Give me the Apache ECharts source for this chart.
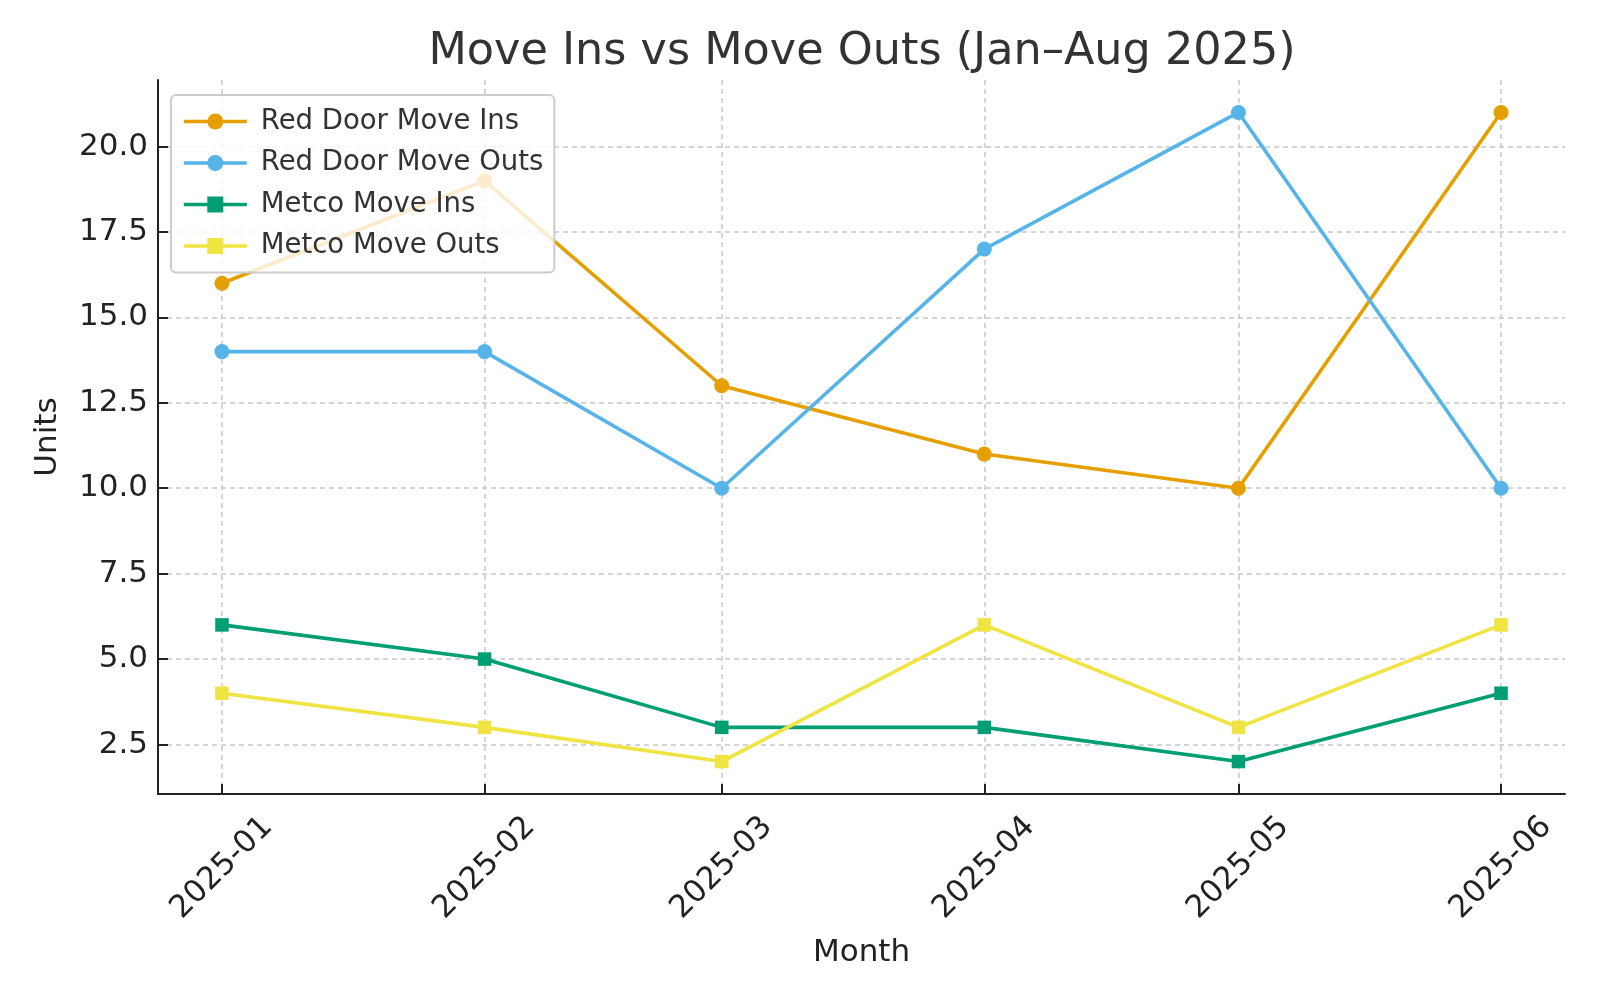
<!DOCTYPE html>
<html>
<head>
<meta charset="utf-8">
<script src="https://cdn.jsdelivr.net/npm/echarts@6/dist/echarts.min.js"></script>
<style>html,body{margin:0;padding:0;background:#fff;}#c{width:1600px;height:1000px;}</style>
</head>
<body>
<div id="c"></div>
<script>
const months = ['2025-01', '2025-02', '2025-03', '2025-04', '2025-05', '2025-06'];
const redDoorMoveIns = [16, 19, 13, 11, 10, 21];
const redDoorMoveOuts = [14, 14, 10, 17, 21, 10];
const metcoMoveIns = [6, 5, 3, 3, 2, 4];
const metcoMoveOuts = [4, 3, 2, 6, 3, 6];
const yTicks = [2.5, 5.0, 7.5, 10.0, 12.5, 15.0, 17.5, 20.0];

const times = months.map(m => { const [y, mo] = m.split('-').map(Number); return Date.UTC(y, mo - 1, 1); });
const span = times[times.length - 1] - times[0];
const xMin = times[0] - span * 0.05;
const xMax = times[times.length - 1] + span * 0.05;
const allVals = [].concat(redDoorMoveIns, redDoorMoveOuts, metcoMoveIns, metcoMoveOuts);
const vMin = Math.min(...allVals), vMax = Math.max(...allVals);
const yMin = vMin - (vMax - vMin) * 0.05, yMax = vMax + (vMax - vMin) * 0.05;

function pairs(arr) { return arr.map((v, i) => [times[i], v]); }
function fmtMonth(v) {
  const i = times.findIndex(t => Math.abs(t - v) < 1000);
  return i >= 0 ? months[i] : '';
}

const FONT = 'DejaVu Sans';
function mk(name, data, color, symbol, size) {
  return {
    name, type: 'line', data: pairs(data), symbol, symbolSize: size,
    lineStyle: { color, width: 3.6 },
    itemStyle: { color, borderWidth: 0 },
    emphasis: { disabled: true }
  };
}

const chart = echarts.init(document.getElementById('c'), null, { renderer: 'canvas' });
chart.setOption({
  animation: false,
  backgroundColor: '#fff',
  title: {
    text: 'Move Ins vs Move Outs (Jan–Aug 2025)',
    left: 857, textAlign: 'center', top: 25,
    textStyle: { fontFamily: FONT, fontSize: 44.5, fontWeight: 'normal', color: '#333' }
  },
  grid: { left: 158, right: 35, top: 80, bottom: 206 },
  legend: {
    orient: 'vertical', left: 171, top: 95,
    padding: [11, 11, 11, 11],
    itemWidth: 63, itemHeight: 20, itemGap: 10.5,
    borderColor: '#cccccc', borderWidth: 2, borderRadius: 5,
    backgroundColor: 'rgba(255,255,255,0.8)',
    lineStyle: { width: 3.6 },
    textStyle: { fontFamily: FONT, fontSize: 27.5, color: '#333', lineHeight: 31, padding: [0, 0, 0, 9] },
    data: ['Red Door Move Ins', 'Red Door Move Outs', 'Metco Move Ins', 'Metco Move Outs']
  },
  xAxis: {
    type: 'value', min: xMin, max: xMax, scale: true,
    name: 'Month', nameLocation: 'middle', nameGap: 143, nameMoveOverlap: false,
    nameTextStyle: { fontFamily: FONT, fontSize: 31, color: '#222' },
    axisLine: { show: true, onZero: false, lineStyle: { color: '#222', width: 2 } },
    axisTick: { show: true, inside: true, length: 10, customValues: times, lineStyle: { color: '#222', width: 2 } },
    axisLabel: {
      customValues: times, formatter: v => fmtMonth(v), rotate: 45,
      align: 'center', verticalAlign: 'middle', margin: 74,
      fontFamily: FONT, fontSize: 31, color: '#222', hideOverlap: false
    },
    splitLine: { show: true, lineStyle: { color: '#c8c8c8', width: 1.5, type: [5, 4] } }
  },
  yAxis: {
    type: 'value', min: yMin, max: yMax, scale: true,
    name: 'Units', nameLocation: 'middle', nameGap: 95,
    nameTextStyle: { fontFamily: FONT, fontSize: 31, color: '#222' },
    axisLine: { show: true, onZero: false, lineStyle: { color: '#222', width: 2 } },
    axisTick: { show: true, inside: true, length: 10, customValues: yTicks, lineStyle: { color: '#222', width: 2 } },
    axisLabel: { customValues: yTicks, formatter: v => v.toFixed(1), margin: 10, fontFamily: FONT, fontSize: 31, color: '#222' },
    splitLine: { show: true, lineStyle: { color: '#c8c8c8', width: 1.5, type: [5, 4] } }
  },
  series: [
    mk('Red Door Move Ins', redDoorMoveIns, '#E69F00', 'circle', 15),
    mk('Red Door Move Outs', redDoorMoveOuts, '#56B4E9', 'circle', 15),
    mk('Metco Move Ins', metcoMoveIns, '#009E73', 'rect', 13.5),
    mk('Metco Move Outs', metcoMoveOuts, '#F0E442', 'rect', 13.5)
  ]
});
</script>
</body>
</html>
